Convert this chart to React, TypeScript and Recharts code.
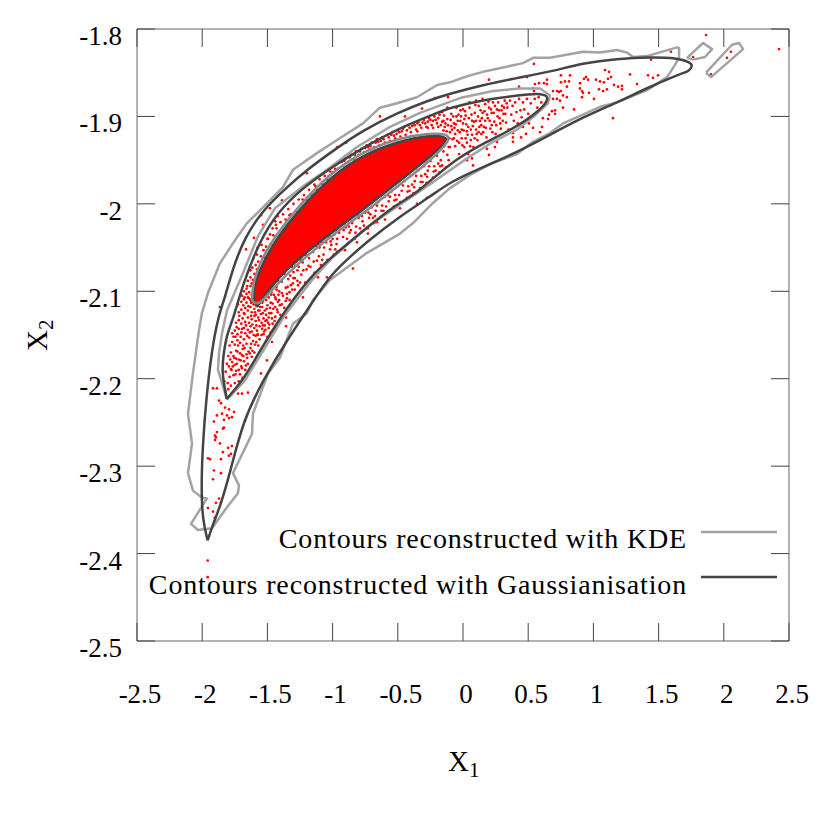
import { Legend, Scatter, ScatterChart, XAxis, YAxis } from "recharts"

type Pair = [number, number]

const xTicks = [-2.5, -2, -1.5, -1, -0.5, 0, 0.5, 1, 1.5, 2, 2.5]
const yTicks = [-2.5, -2.4, -2.3, -2.2, -2.1, -2, -1.9, -1.8]

const legendLabels = ["Contours reconstructed with KDE", "Contours reconstructed with Gaussianisation"]

const gaussOuter: Pair[] = [
  [-1.958, -2.385], [-1.997, -2.362], [-2.007, -2.324], [-1.997, -2.279], [-1.971, -2.225], [-1.927, -2.168],
  [-1.879, -2.13], [-1.825, -2.107], [-1.764, -2.073], [-1.672, -2.038], [-1.534, -2.007], [-1.35, -1.981],
  [-1.197, -1.961], [-0.966, -1.936], [-0.767, -1.916], [-0.506, -1.896], [-0.253, -1.881], [-0.1, -1.874],
  [0.153, -1.864], [0.414, -1.856], [0.667, -1.849], [0.92, -1.839], [1.181, -1.834], [1.434, -1.832],
  [1.641, -1.833], [1.741, -1.838], [1.764, -1.842], [1.726, -1.849], [1.687, -1.85], [1.434, -1.866],
  [1.181, -1.884], [0.92, -1.901], [0.667, -1.921], [0.414, -1.941], [0.153, -1.958], [-0.1, -1.975],
  [-0.253, -1.992], [-0.483, -2.014], [-0.752, -2.045], [-0.89, -2.064], [-1.02, -2.082], [-1.197, -2.122],
  [-1.35, -2.156], [-1.534, -2.202], [-1.687, -2.248], [-1.787, -2.308], [-1.864, -2.347], [-1.917, -2.366],
  [-1.958, -2.385],
]

const gaussMid: Pair[] = [
  [-1.812, -2.223], [-1.848, -2.194], [-1.841, -2.176], [-1.81, -2.148], [-1.764, -2.133], [-1.687, -2.091],
  [-1.557, -2.042], [-1.427, -2.011], [-1.25, -1.984], [-0.997, -1.957], [-0.736, -1.933], [-0.483, -1.913],
  [-0.23, -1.898], [-0.1, -1.89], [0.153, -1.881], [0.414, -1.876], [0.614, -1.873], [0.667, -1.879],
  [0.591, -1.893], [0.414, -1.912], [0.153, -1.931], [-0.1, -1.953], [-0.353, -1.988], [-0.506, -2.0],
  [-0.736, -2.027], [-1.035, -2.064], [-1.173, -2.084], [-1.381, -2.125], [-1.557, -2.168], [-1.687, -2.202],
  [-1.812, -2.223],
]

const gaussInner: Pair[] = [
  [-1.58, -2.118], [-1.611, -2.107], [-1.595, -2.09], [-1.534, -2.067], [-1.427, -2.039], [-1.25, -2.005],
  [-0.997, -1.967], [-0.767, -1.944], [-0.506, -1.929], [-0.253, -1.921], [-0.138, -1.923], [-0.123, -1.927],
  [-0.176, -1.936], [-0.307, -1.953], [-0.506, -1.976], [-0.767, -2.007], [-1.02, -2.034], [-1.273, -2.064],
  [-1.457, -2.091], [-1.58, -2.118],
]

const kdeOuter: Pair[] = [
  [-2.109, -2.308], [-2.078, -2.274], [-2.109, -2.24], [-2.071, -2.194], [-2.025, -2.145], [-2.002, -2.125],
  [-1.956, -2.102], [-1.864, -2.068], [-1.764, -2.045], [-1.657, -2.022], [-1.534, -2.004], [-1.381, -1.981],
  [-1.304, -1.961], [-1.12, -1.942], [-0.966, -1.927], [-0.767, -1.908], [-0.637, -1.89], [-0.506, -1.885],
  [-0.353, -1.878], [-0.199, -1.864], [-0.1, -1.861], [0.031, -1.854], [0.153, -1.849], [0.307, -1.844],
  [0.46, -1.839], [0.537, -1.833], [0.667, -1.833], [0.92, -1.826], [1.051, -1.827], [1.181, -1.824],
  [1.258, -1.827], [1.304, -1.832], [1.411, -1.831], [1.641, -1.821], [1.657, -1.822], [1.657, -1.832],
  [1.626, -1.841], [1.565, -1.855], [1.411, -1.87], [1.181, -1.884], [1.051, -1.889], [0.92, -1.898],
  [0.767, -1.908], [0.667, -1.919], [0.537, -1.929], [0.414, -1.943], [0.23, -1.953], [0.054, -1.967],
  [-0.1, -1.982], [-0.23, -1.999], [-0.383, -2.022], [-0.483, -2.034], [-0.736, -2.056], [-1.02, -2.087],
  [-1.15, -2.11], [-1.197, -2.125], [-1.304, -2.137], [-1.404, -2.176], [-1.495, -2.194], [-1.611, -2.24],
  [-1.618, -2.263], [-1.764, -2.308], [-1.718, -2.322], [-1.726, -2.331], [-1.81, -2.347], [-1.925, -2.371],
  [-2.033, -2.373], [-2.086, -2.366], [-1.964, -2.337], [-2.002, -2.336], [-2.071, -2.328], [-2.109, -2.308],
]

const kdeMid: Pair[] = [
  [-1.81, -2.224], [-1.879, -2.19], [-1.871, -2.171], [-1.848, -2.148], [-1.81, -2.122], [-1.687, -2.079],
  [-1.572, -2.037], [-1.442, -2.005], [-1.227, -1.98], [-1.043, -1.961], [-0.813, -1.935], [-0.56, -1.912],
  [-0.33, -1.896], [-0.023, -1.879], [0.23, -1.871], [0.437, -1.868], [0.591, -1.868], [0.667, -1.876],
  [0.652, -1.885], [0.537, -1.901], [0.414, -1.915], [0.23, -1.929], [0.031, -1.948], [-0.345, -1.987],
  [-0.729, -2.026], [-1.005, -2.062], [-1.158, -2.087], [-1.365, -2.127], [-1.541, -2.17], [-1.672, -2.202],
  [-1.81, -2.224],
]

const kdeInner: Pair[] = [
  [-1.618, -2.11], [-1.611, -2.09], [-1.549, -2.064], [-1.442, -2.037], [-1.265, -2.003], [-1.012, -1.964],
  [-0.775, -1.941], [-0.506, -1.925], [-0.253, -1.919], [-0.123, -1.92], [-0.1, -1.926], [-0.161, -1.937],
  [-0.291, -1.956], [-0.498, -1.979], [-0.752, -2.01], [-1.005, -2.036], [-1.258, -2.067], [-1.442, -2.094],
  [-1.572, -2.118], [-1.618, -2.11],
]

const kdeIslandA: Pair[] = [[1.718, -1.833], [1.841, -1.816], [1.91, -1.823], [1.856, -1.832], [1.764, -1.835], [1.718, -1.833]]

const kdeIslandB: Pair[] = [
  [1.864, -1.85], [2.025, -1.824], [2.063, -1.818], [2.117, -1.816], [2.148, -1.823], [2.025, -1.839], [1.902, -1.855],
  [1.864, -1.85],
]

const tailDots: Pair[] = [
  [-1.958, -2.408], [-1.958, -2.427], [-1.904, -2.359], [-1.956, -2.348], [-1.917, -2.352], [-1.894, -2.342],
  [-1.856, -2.342], [-1.871, -2.337], [-1.917, -2.315], [-1.91, -2.305], [-1.856, -2.308], [-1.956, -2.291],
  [-1.94, -2.292], [-1.856, -2.292], [-1.795, -2.288], [-1.779, -2.286], [-1.802, -2.279], [-1.772, -2.277],
  [-1.841, -2.284], [-1.864, -2.274], [-1.902, -2.27], [-1.894, -2.267], [-1.902, -2.265], [-1.887, -2.261],
  [-1.841, -2.257], [-1.833, -2.256], [-1.91, -2.249], [-1.887, -2.242], [-1.848, -2.24], [-1.833, -2.247],
  [-1.81, -2.242], [-1.795, -2.245], [-1.772, -2.244], [-1.756, -2.238], [-1.795, -2.235], [-1.825, -2.233],
  [-1.871, -2.225], [-1.856, -2.228], [-1.672, -2.248], [-1.917, -2.211], [-1.887, -2.211], [-1.864, -2.118],
]

const tipDots: Pair[] = [
  [-1.82, -2.215], [-1.8, -2.212], [-1.78, -2.208], [-1.75, -2.205], [-1.72, -2.203], [-1.83, -2.203], [-1.79, -2.198],
  [-1.76, -2.196], [-1.71, -2.195], [-1.69, -2.199], [-1.82, -2.192], [-1.78, -2.189], [-1.74, -2.191], [-1.7, -2.186],
  [-1.67, -2.19], [-1.81, -2.183], [-1.77, -2.181], [-1.75, -2.184], [-1.72, -2.178], [-1.68, -2.18], [-1.65, -2.183],
  [-1.62, -2.175], [-1.8, -2.174], [-1.78, -2.17], [-1.76, -2.174], [-1.74, -2.168], [-1.71, -2.171], [-1.69, -2.166],
  [-1.66, -2.172], [-1.63, -2.165], [-1.6, -2.17], [-1.57, -2.162], [-1.79, -2.162], [-1.77, -2.158], [-1.75, -2.161],
  [-1.73, -2.156], [-1.71, -2.159], [-1.68, -2.155], [-1.66, -2.16], [-1.64, -2.153], [-1.61, -2.157], [-1.59, -2.151],
  [-1.56, -2.155], [-1.53, -2.149], [-1.5, -2.152], [-1.77, -2.148], [-1.75, -2.145], [-1.73, -2.149], [-1.72, -2.143],
  [-1.7, -2.147], [-1.68, -2.142], [-1.67, -2.148], [-1.65, -2.144], [-1.63, -2.14], [-1.62, -2.146], [-1.6, -2.142],
  [-1.58, -2.145], [-1.56, -2.14], [-1.54, -2.143], [-1.52, -2.139], [-1.49, -2.142], [-1.46, -2.137], [-1.44, -2.141],
  [-1.74, -2.136], [-1.72, -2.133], [-1.7, -2.137], [-1.69, -2.131], [-1.67, -2.135], [-1.65, -2.13], [-1.64, -2.136],
  [-1.62, -2.132], [-1.6, -2.128], [-1.59, -2.134], [-1.57, -2.13], [-1.55, -2.126], [-1.53, -2.131], [-1.51, -2.127],
  [-1.49, -2.13], [-1.47, -2.125], [-1.44, -2.129], [-1.42, -2.124], [-1.4, -2.127], [-1.72, -2.124], [-1.7, -2.121],
  [-1.68, -2.125], [-1.67, -2.119], [-1.65, -2.122], [-1.63, -2.118], [-1.62, -2.124], [-1.6, -2.12], [-1.56, -2.122],
  [-1.54, -2.118], [-1.52, -2.122], [-1.5, -2.116], [-1.48, -2.119], [-1.46, -2.114], [-1.44, -2.118], [-1.42, -2.112],
  [-1.39, -2.115], [-1.36, -2.111], [-1.7, -2.112], [-1.68, -2.109], [-1.66, -2.113], [-1.65, -2.107], [-1.63, -2.11],
  [-1.62, -2.104], [-1.68, -2.1], [-1.66, -2.097], [-1.64, -2.101], [-1.63, -2.094], [-1.61, -2.099], [-1.65, -2.088],
  [-1.63, -2.084], [-1.61, -2.087], [-1.6, -2.08], [-1.58, -2.075], [-1.63, -2.076], [-1.59, -2.07], [-1.57, -2.066],
  [-1.55, -2.06], [-1.53, -2.053], [-1.51, -2.049], [-1.58, -2.058], [-1.664, -2.052], [-1.603, -2.039],
]

const tipDenseDots: Pair[] = [
  [-1.745, -2.152], [-1.735, -2.141], [-1.725, -2.162], [-1.715, -2.128], [-1.705, -2.152], [-1.695, -2.143], [-1.685, -2.162],
  [-1.675, -2.126], [-1.665, -2.139], [-1.655, -2.151], [-1.645, -2.117], [-1.635, -2.147], [-1.625, -2.128], [-1.615, -2.138],
  [-1.605, -2.15], [-1.595, -2.124], [-1.585, -2.139], [-1.575, -2.149], [-1.565, -2.133], [-1.555, -2.118], [-1.545, -2.136],
  [-1.535, -2.125], [-1.525, -2.146], [-1.515, -2.134], [-1.505, -2.12], [-1.495, -2.136], [-1.485, -2.125], [-1.475, -2.113],
  [-1.465, -2.131], [-1.455, -2.12], [-1.445, -2.134], [-1.435, -2.109], [-1.425, -2.121], [-1.415, -2.104], [-1.405, -2.116],
  [-1.76, -2.152], [-1.74, -2.177], [-1.73, -2.169], [-1.72, -2.19], [-1.705, -2.179], [-1.695, -2.173], [-1.675, -2.165],
  [-1.655, -2.176], [-1.645, -2.169], [-1.625, -2.16], [-1.615, -2.168], [-1.595, -2.161], [-1.585, -2.158], [-1.575, -2.15],
  [-1.545, -2.15], [-1.535, -2.139], [-1.515, -2.144], [-1.505, -2.133], [-1.485, -2.138], [-1.475, -2.147], [-1.455, -2.144],
  [-1.805, -2.205], [-1.795, -2.186], [-1.785, -2.178], [-1.775, -2.19], [-1.765, -2.186], [-1.755, -2.176], [-1.745, -2.195],
  [-1.735, -2.183], [-1.695, -2.188], [-1.685, -2.174], [-1.665, -2.185], [-1.635, -2.171], [-1.725, -2.115], [-1.695, -2.105],
  [-1.685, -2.116], [-1.675, -2.107], [-1.66, -2.103], [-1.655, -2.094], [-1.64, -2.108], [-1.625, -2.113], [-1.615, -2.112],
  [-1.605, -2.115], [-1.59, -2.127], [-1.57, -2.122], [-1.535, -2.111], [-1.515, -2.106], [-1.49, -2.107], [-1.47, -2.101],
  [-1.45, -2.104], [-1.43, -2.098], [-1.41, -2.11], [-1.39, -2.102], [-1.37, -2.119], [-1.35, -2.103], [-1.33, -2.11],
  [-1.31, -2.098], [-1.29, -2.085], [-1.27, -2.076], [-1.62, -2.091], [-1.615, -2.073], [-1.605, -2.062], [-1.575, -2.05],
  [-1.545, -2.047], [-1.525, -2.061], [-1.495, -2.04], [-1.475, -2.046], [-1.455, -2.036], [-1.435, -2.024],
]

const lowerBandDots: Pair[] = [
  [-1.54, -2.113], [-1.51, -2.11], [-1.47, -2.104], [-1.44, -2.107], [-1.41, -2.1], [-1.38, -2.105], [-1.36, -2.096],
  [-1.43, -2.095], [-1.39, -2.089], [-1.34, -2.086], [-1.32, -2.093], [-1.3, -2.078], [-1.33, -2.101], [-1.29, -2.098],
  [-1.27, -2.088], [-1.31, -2.072], [-1.26, -2.072], [-1.24, -2.081], [-1.23, -2.067], [-1.21, -2.09], [-1.2, -2.075],
  [-1.18, -2.062], [-1.17, -2.072], [-1.15, -2.055], [-1.14, -2.079], [-1.22, -2.058], [-1.12, -2.065], [-1.1, -2.05],
  [-1.09, -2.07], [-1.07, -2.058], [-1.05, -2.044], [-1.04, -2.064], [-1.02, -2.052], [-1, -2.04], [-0.99, -2.058],
  [-0.97, -2.046], [-0.95, -2.033], [-0.93, -2.052], [-0.92, -2.038], [-0.9, -2.027], [-0.88, -2.045], [-0.87, -2.033],
  [-0.85, -2.022], [-0.83, -2.04], [-0.82, -2.026], [-0.8, -2.016], [-0.78, -2.032], [-0.77, -2.02], [-0.75, -2.01],
  [-0.73, -2.028], [-0.72, -2.016], [-0.7, -2.004], [-0.68, -2.022], [-0.67, -2.008], [-0.65, -1.998], [-0.63, -2.015],
  [-0.62, -2.002], [-0.6, -1.992], [-0.58, -2.009], [-0.57, -1.997], [-0.55, -1.986], [-0.53, -2.003], [-0.52, -1.99],
  [-0.5, -1.98], [-0.48, -1.998], [-0.47, -1.985], [-0.45, -1.974], [-0.43, -1.993], [-0.42, -1.98], [-0.4, -1.968],
  [-0.38, -1.988], [-0.37, -1.974], [-0.35, -1.962], [-0.33, -1.982], [-0.32, -1.968], [-0.3, -1.957], [-0.28, -1.976],
  [-0.27, -1.962], [-0.25, -1.951], [-0.23, -1.97], [-0.22, -1.957], [-0.2, -1.945], [-0.18, -1.964], [-0.17, -1.95],
  [-0.15, -1.94], [-0.13, -1.958], [-0.12, -1.944], [-0.1, -1.935], [-1.11, -2.046], [-1.06, -2.039], [-1.01, -2.047],
  [-0.96, -2.028], [-0.91, -2.022], [-0.86, -2.03], [-0.81, -2.012], [-0.76, -2.025], [-0.71, -2.012], [-0.66, -2.002],
  [-0.61, -2.008], [-0.56, -1.992], [-0.51, -1.995], [-0.46, -1.979], [-0.41, -1.985], [-0.36, -1.968], [-0.31, -1.975],
  [-0.26, -1.957], [-0.21, -1.962], [-0.16, -1.956], [-0.11, -1.95], [-1.25, -2.09], [-1.35, -2.108], [-1.3, -2.085],
  [-1.16, -2.084], [-1.08, -2.064], [-0.98, -2.052], [-0.89, -2.04], [-0.79, -2.028], [-0.69, -2.016], [-0.59, -2.003],
  [-0.49, -1.99], [-0.39, -1.978], [-0.29, -1.966], [-0.19, -1.954], [-1.345, -2.095], [-1.325, -2.082], [-1.305, -2.091],
  [-1.285, -2.071], [-1.265, -2.093], [-1.245, -2.064], [-1.225, -2.076], [-1.205, -2.059], [-1.185, -2.071], [-1.165, -2.05],
  [-1.145, -2.066], [-1.125, -2.048], [-1.105, -2.06], [-1.085, -2.044], [-1.065, -2.05], [-1.035, -2.037], [-1.015, -2.043],
  [-0.985, -2.035], [-0.965, -2.04], [-0.945, -2.025], [-0.915, -2.03], [-0.895, -2.02], [-0.875, -2.026], [-0.845, -2.014],
  [-0.825, -2.033], [-0.795, -2.009], [-0.775, -2.014], [-0.745, -2.002], [-0.725, -2.01], [-0.695, -1.996], [-0.675, -2.014],
  [-0.645, -1.991], [-0.625, -2.008], [-0.595, -1.985], [-0.575, -1.99], [-0.545, -1.98], [-0.525, -1.996], [-0.495, -1.972],
  [-0.475, -1.977], [-0.445, -1.968], [-0.425, -1.986], [-0.395, -1.962], [-0.375, -1.981], [-0.345, -1.956], [-0.325, -1.975],
  [-0.295, -1.951], [-0.275, -1.969], [-0.245, -1.945], [-0.225, -1.963], [-0.195, -1.94], [-0.175, -1.957], [-0.145, -1.934],
  [-1.19, -2.052], [-1.13, -2.047], [-1.075, -2.038], [-1.025, -2.036], [-0.975, -2.03], [-0.935, -2.024], [-0.885, -2.018],
  [-0.855, -2.01], [-0.805, -2.006], [-0.765, -2], [-0.735, -1.997], [-0.705, -1.993], [-0.655, -1.988], [-0.615, -1.983],
  [-0.585, -1.98], [-0.535, -1.975], [-0.505, -1.969], [-0.465, -1.964], [-0.435, -1.96], [-0.385, -1.956], [-0.355, -1.95],
  [-0.315, -1.947], [-0.265, -1.94], [-0.235, -1.936], [-0.205, -1.932], [-0.165, -1.929], [-1.24, -2.061], [-1.28, -2.066],
  [-1.37, -2.08], [-1.42, -2.088], [-1.46, -2.093], [-1.5, -2.1], [-1.53, -2.102], [-1.56, -2.11], [-1.58, -2.112],
]

const upperBandDots: Pair[] = [
  [-1.5, -2.04], [-1.48, -2.035], [-1.46, -2.028], [-1.44, -2.02], [-1.42, -2.014], [-1.4, -2.021], [-1.38, -2.012],
  [-1.36, -2.018], [-1.34, -2.006], [-1.32, -2.012], [-1.3, -2], [-1.28, -2.008], [-1.26, -1.995], [-1.24, -2],
  [-1.22, -1.99], [-1.2, -1.996], [-1.18, -1.984], [-1.16, -1.99], [-1.14, -1.978], [-1.12, -1.984], [-1.1, -1.972],
  [-1.08, -1.977], [-1.06, -1.968], [-1.04, -1.972], [-1.02, -1.963], [-1, -1.964], [-0.98, -1.96], [-0.96, -1.96],
  [-0.94, -1.952], [-0.92, -1.956], [-0.9, -1.948], [-0.88, -1.952], [-0.86, -1.944], [-0.84, -1.949], [-0.82, -1.94],
  [-0.8, -1.944], [-0.78, -1.937], [-0.76, -1.941], [-0.74, -1.933], [-0.72, -1.938], [-0.7, -1.93], [-0.68, -1.935],
  [-0.66, -1.926], [-0.64, -1.933], [-0.62, -1.924], [-0.6, -1.93], [-0.58, -1.921], [-0.56, -1.928], [-0.54, -1.918],
  [-0.52, -1.925], [-0.5, -1.916], [-0.48, -1.923], [-0.46, -1.914], [-0.44, -1.921], [-0.42, -1.91], [-0.4, -1.918],
  [-0.38, -1.908], [-0.36, -1.915], [-0.34, -1.906], [-0.32, -1.913], [-0.3, -1.904], [-0.28, -1.912], [-0.26, -1.902],
  [-0.24, -1.91], [-0.22, -1.9], [-0.2, -1.908], [-0.18, -1.898], [-0.16, -1.906], [-1.43, -2.028], [-1.33, -2.013],
  [-1.23, -1.995], [-1.13, -1.98], [-1.03, -1.968], [-0.93, -1.952], [-0.83, -1.944], [-0.73, -1.935], [-0.63, -1.928],
  [-0.53, -1.922], [-0.43, -1.916], [-0.33, -1.91], [-0.23, -1.905], [-0.91, -1.951], [-0.87, -1.947], [-0.79, -1.94],
  [-0.75, -1.936], [-0.71, -1.934], [-0.67, -1.93], [-0.65, -1.929], [-0.61, -1.926], [-0.57, -1.924], [-0.55, -1.921],
  [-0.51, -1.92], [-0.49, -1.918], [-0.47, -1.917], [-0.45, -1.912], [-0.41, -1.913], [-0.39, -1.911], [-0.37, -1.91],
  [-0.35, -1.908], [-0.31, -1.907], [-0.29, -1.908], [-0.27, -1.906], [-0.25, -1.904], [-0.21, -1.904], [-0.19, -1.902],
  [-0.17, -1.91], [-0.15, -1.916], [-0.19, -1.912], [-0.23, -1.913], [-0.27, -1.913], [-0.35, -1.917],
]

const ridgeDots: Pair[] = [
  [-0.14, -1.912], [-0.12, -1.903], [-0.1, -1.918], [-0.09, -1.897], [-0.08, -1.926], [-0.07, -1.908], [-0.06, -1.934],
  [-0.05, -1.9], [-0.04, -1.916], [-0.03, -1.943], [-0.02, -1.893], [-0.01, -1.925], [0, -1.908], [0.01, -1.935],
  [0.02, -1.899], [0.03, -1.917], [0.04, -1.943], [0.05, -1.89], [0.06, -1.927], [0.07, -1.905], [0.08, -1.935],
  [0.09, -1.896], [0.1, -1.915], [0.11, -1.927], [0.12, -1.888], [0.13, -1.905], [0.14, -1.92], [0.15, -1.896],
  [0.16, -1.912], [0.17, -1.886], [0.18, -1.924], [0.19, -1.902], [0.2, -1.89], [0.21, -1.914], [0.22, -1.896],
  [0.23, -1.884], [0.24, -1.906], [0.25, -1.92], [0.26, -1.892], [0.27, -1.884], [0.28, -1.902], [0.29, -1.914],
  [0.3, -1.888], [0.31, -1.897], [0.32, -1.882], [0.33, -1.907], [0.34, -1.89], [0.35, -1.915], [0.36, -1.882],
  [0.37, -1.898], [0.38, -1.888], [0.39, -1.905], [0.4, -1.884], [0.41, -1.895], [0.42, -1.908], [0.43, -1.88],
  [0.44, -1.893], [0.45, -1.901], [0.46, -1.884], [0.47, -1.892], [0.48, -1.906], [0.49, -1.88], [0.5, -1.897],
  [0.52, -1.885], [0.53, -1.9], [0.55, -1.88], [0.57, -1.89], [0.58, -1.878], [0.6, -1.884], [-0.13, -1.926],
  [-0.11, -1.935], [-0.06, -1.92], [-0.02, -1.905], [0.02, -1.925], [0.06, -1.915], [0.1, -1.905], [0.14, -1.91],
  [-0.09, -1.911], [-0.07, -1.925], [-0.04, -1.905], [-0.01, -1.915], [0.01, -1.903], [0.04, -1.912], [0.07, -1.921],
  [-0.03, -1.93], [0.03, -1.93], [0.09, -1.925], [-0.15, -1.905], [0.12, -1.918], [0.17, -1.905], [0.22, -1.91],
  [-0.05, -1.89], [0, -1.892], [-0.12, -1.89], [0.05, -1.884], [0.1, -1.882], [0.15, -1.88], [-0.16, -1.895],
  [-0.145, -1.899], [-0.135, -1.908], [-0.125, -1.917], [-0.115, -1.91], [-0.105, -1.925], [-0.095, -1.904], [-0.085, -1.915],
  [-0.075, -1.9], [-0.065, -1.913], [-0.055, -1.909], [-0.045, -1.928], [-0.035, -1.898], [-0.025, -1.918], [-0.015, -1.9],
  [-0.005, -1.933], [0.005, -1.916], [0.015, -1.894], [0.025, -1.909], [0.035, -1.921], [0.045, -1.902], [0.055, -1.934],
  [0.065, -1.898], [0.075, -1.911], [0.085, -1.906], [0.095, -1.887], [0.105, -1.92], [0.115, -1.9], [0.125, -1.912],
  [0.135, -1.893], [0.145, -1.902], [0.155, -1.918], [0.165, -1.894], [0.175, -1.913], [0.185, -1.898], [0.195, -1.883],
  [0.205, -1.905], [0.215, -1.892], [0.225, -1.918], [0.235, -1.896], [0.245, -1.888], [0.255, -1.91], [0.265, -1.9],
  [0.275, -1.893], [0.285, -1.908], [0.295, -1.893], [0.305, -1.905], [0.315, -1.89], [0.325, -1.897], [0.335, -1.885],
]

const sparseDots: Pair[] = [
  [0.544, -1.84], [0.199, -1.858], [0.491, -1.855], [1.864, -1.807], [2.423, -1.823], [2.055, -1.826], [2.025, -1.833],
  [1.902, -1.852], [1.764, -1.832], [1.595, -1.826], [1.442, -1.835], [1.281, -1.852], [1.419, -1.853], [1.457, -1.856],
  [1.496, -1.853], [1.334, -1.863], [1.089, -1.847], [1.12, -1.849], [1.135, -1.855], [1.112, -1.857], [1.081, -1.861],
  [1.051, -1.86], [1.02, -1.858], [0.959, -1.858], [0.943, -1.855], [0.928, -1.857], [0.897, -1.862], [0.897, -1.868],
  [0.913, -1.871], [0.92, -1.873], [0.913, -1.878], [0.966, -1.873], [1.005, -1.88], [1.043, -1.869], [1.074, -1.871],
  [1.104, -1.869], [1.158, -1.864], [1.189, -1.866], [1.219, -1.865], [1.219, -1.869], [1.15, -1.902], [0.851, -1.892],
  [0.821, -1.853], [0.751, -1.853], [0.751, -1.861], [0.782, -1.86], [0.813, -1.86], [0.797, -1.866], [0.767, -1.876],
  [0.797, -1.878], [0.767, -1.89], [0.744, -1.882], [0.721, -1.871], [0.751, -1.871], [0.736, -1.872], [0.69, -1.871],
  [0.644, -1.858], [0.644, -1.863], [0.621, -1.862], [0.583, -1.862], [0.552, -1.863], [0.544, -1.871], [0.537, -1.868],
  [0.43, -1.866], [0.69, -1.88], [0.721, -1.88], [0.652, -1.903], [0.682, -1.894], [0.706, -1.893], [0.706, -1.897],
  [0.613, -1.902], [0.66, -1.898], [0.591, -1.918], [0.606, -1.912], [0.537, -1.913], [0.506, -1.908], [0.46, -1.912],
  [0.483, -1.92], [0.445, -1.924], [0.383, -1.919], [0.383, -1.924], [0.383, -1.929], [0.261, -1.929], [0.245, -1.935],
  [0.184, -1.937], [0.199, -1.944], [0.077, -1.956], [0.069, -1.948], [0.031, -1.95], [-0.844, -2.074], [-0.966, -1.935],
  [-0.897, -1.93], [-1.197, -1.965], [-1.388, -1.996], [-1.48, -2.005], [-1.549, -2.013], [-1.534, -2.024], [-0.637, -1.9],
  [-0.445, -1.9], [-0.314, -1.891], [-0.215, -1.879], [-0.115, -1.878], [-0.353, -2], [-0.276, -1.993], [-0.238, -1.976],
  [-0.483, -2.005], [-0.598, -2.018], [-0.66, -2.021], [-0.729, -2.034], [-0.813, -2.044], [-0.905, -2.053], [-0.966, -2.055],
  [-1.043, -2.084], [-1.112, -2.084], [-1.15, -2.085], [-1.227, -2.107], [-1.327, -2.116], [-1.357, -2.13], [-1.357, -2.14],
  [-1.465, -2.158], [-1.534, -2.168], [-1.503, -2.179], [-1.549, -2.194], [-1.649, -2.216], [-1.695, -2.217], [-1.725, -2.217],
]

const redDots = [...tailDots, ...tipDots, ...tipDenseDots, ...lowerBandDots, ...upperBandDots, ...ridgeDots, ...sparseDots]

const toRows = (pairs: Pair[]) => pairs.map(([x, y]) => ({ x, y }))

const serif = "'Liberation Serif', serif"
const kdeColor = "#a3a3a3"
const gaussColor = "#444444"
const frameColor = "#666666"
const tickColor = "#444444"

const BottomTick = ({ x, y, payload }: any) => (
  <g>
    <line x1={x} y1={y} x2={x} y2={y - 18} stroke={tickColor} />
    <text x={x + 3} y={y + 62} textAnchor="middle" fontFamily={serif} fontSize={27} fill="#000">
      {payload.value}
    </text>
  </g>
)

const TopTick = ({ x, y }: any) => <line x1={x} y1={y} x2={x} y2={y + 18} stroke={tickColor} />

const LeftTick = ({ x, y, payload }: any) => (
  <g>
    <line x1={x} y1={y} x2={x + 18} y2={y} stroke={tickColor} />
    <text x={x - 15} y={y + 16} textAnchor="end" fontFamily={serif} fontSize={27} fill="#000">
      {payload.value}
    </text>
  </g>
)

const RightTick = ({ x, y }: any) => <line x1={x} y1={y} x2={x - 18} y2={y} stroke={tickColor} />

const Dot = ({ cx, cy }: any) => <circle cx={cx} cy={cy} r={1.35} fill="#ff0000" />
const NoDot = () => null

const LegendBox = () => (
  <svg width={830} height={130} style={{ display: "block" }}>
    {legendLabels.map((label, i) => (
      <g key={label}>
        <text
          x={687}
          y={48 + i * 46}
          textAnchor="end"
          fontFamily={serif}
          fontSize={28}
          letterSpacing={0.85}
          fill="#000"
        >
          {label}
        </text>
        <line
          x1={701}
          x2={777}
          y1={32 + i * 45}
          y2={32 + i * 45}
          stroke={i === 0 ? kdeColor : gaussColor}
          strokeWidth={2.5}
        />
      </g>
    ))}
  </svg>
)

const contour = (name: string, pairs: Pair[], color: string, joint: "linear" | "basis") => (
  <Scatter
    key={name}
    name={name}
    data={toRows(pairs)}
    shape={NoDot}
    line={{ stroke: color, strokeWidth: 2.5, strokeLinejoin: "round" }}
    lineType="joint"
    lineJointType={joint}
    isAnimationActive={false}
    legendType="none"
  />
)

export default function App() {
  return (
    <div style={{ position: "absolute", left: 0, top: 0 }}>
      <ScatterChart width={830} height={830} margin={{ top: 28, right: 40, bottom: 0, left: 0 }}>
        <XAxis
          dataKey="x"
          type="number"
          domain={[-2.5, 2.5]}
          ticks={xTicks}
          interval={0}
          height={189}
          tickSize={0}
          tickMargin={0}
          tickLine={false}
          stroke={frameColor}
          tick={<BottomTick />}
        />
        <XAxis
          xAxisId="top"
          orientation="top"
          dataKey="x"
          type="number"
          domain={[-2.5, 2.5]}
          ticks={xTicks}
          interval={0}
          height={1}
          tickSize={0}
          tickMargin={0}
          tickLine={false}
          stroke={frameColor}
          tick={<TopTick />}
        />
        <YAxis
          dataKey="y"
          type="number"
          domain={[-2.5, -1.8]}
          ticks={yTicks}
          interval={0}
          width={137}
          tickSize={0}
          tickMargin={0}
          tickLine={false}
          stroke={frameColor}
          tick={<LeftTick />}
        />
        <YAxis
          yAxisId="right"
          orientation="right"
          dataKey="y"
          type="number"
          domain={[-2.5, -1.8]}
          ticks={yTicks}
          interval={0}
          width={1}
          tickSize={0}
          tickMargin={0}
          tickLine={false}
          stroke={frameColor}
          tick={<RightTick />}
        />
        <Scatter
          name="frame"
          xAxisId="top"
          yAxisId="right"
          data={toRows(gaussInner)}
          shape={NoDot}
          isAnimationActive={false}
        />
        <Scatter
          name="core"
          data={toRows(gaussInner)}
          shape={NoDot}
          line={{ stroke: "#ff0000", strokeWidth: 1, fill: "#ff0000" }}
          lineType="joint"
          lineJointType="basis"
          isAnimationActive={false}
        />
        <Scatter name="samples" data={toRows(redDots)} shape={Dot} isAnimationActive={false} />
        {contour("kde outer", kdeOuter, kdeColor, "linear")}
        {contour("kde mid", kdeMid, kdeColor, "linear")}
        {contour("kde island a", kdeIslandA, kdeColor, "linear")}
        {contour("kde island b", kdeIslandB, kdeColor, "linear")}
        {contour("gauss outer", gaussOuter, gaussColor, "basis")}
        {contour("gauss mid", gaussMid, gaussColor, "basis")}
        {contour("gauss inner", gaussInner, gaussColor, "basis")}
        {contour("kde inner", kdeInner, "#8a8a8a", "basis")}
        <Legend
          layout="vertical"
          align="center"
          verticalAlign="middle"
          content={<LegendBox />}
          wrapperStyle={{ position: "absolute", left: 0, top: 500, width: 830 }}
        />
        <text x={448} y={771} fontFamily={serif} fontSize={29} fill="#000">
          X
          <tspan dy={6} fontSize={21}>
            1
          </tspan>
        </text>
        <text x={47} y={351} transform="rotate(-90 47 351)" fontFamily={serif} fontSize={29} fill="#000">
          X
          <tspan dy={6} fontSize={21}>
            2
          </tspan>
        </text>
      </ScatterChart>
    </div>
  )
}
